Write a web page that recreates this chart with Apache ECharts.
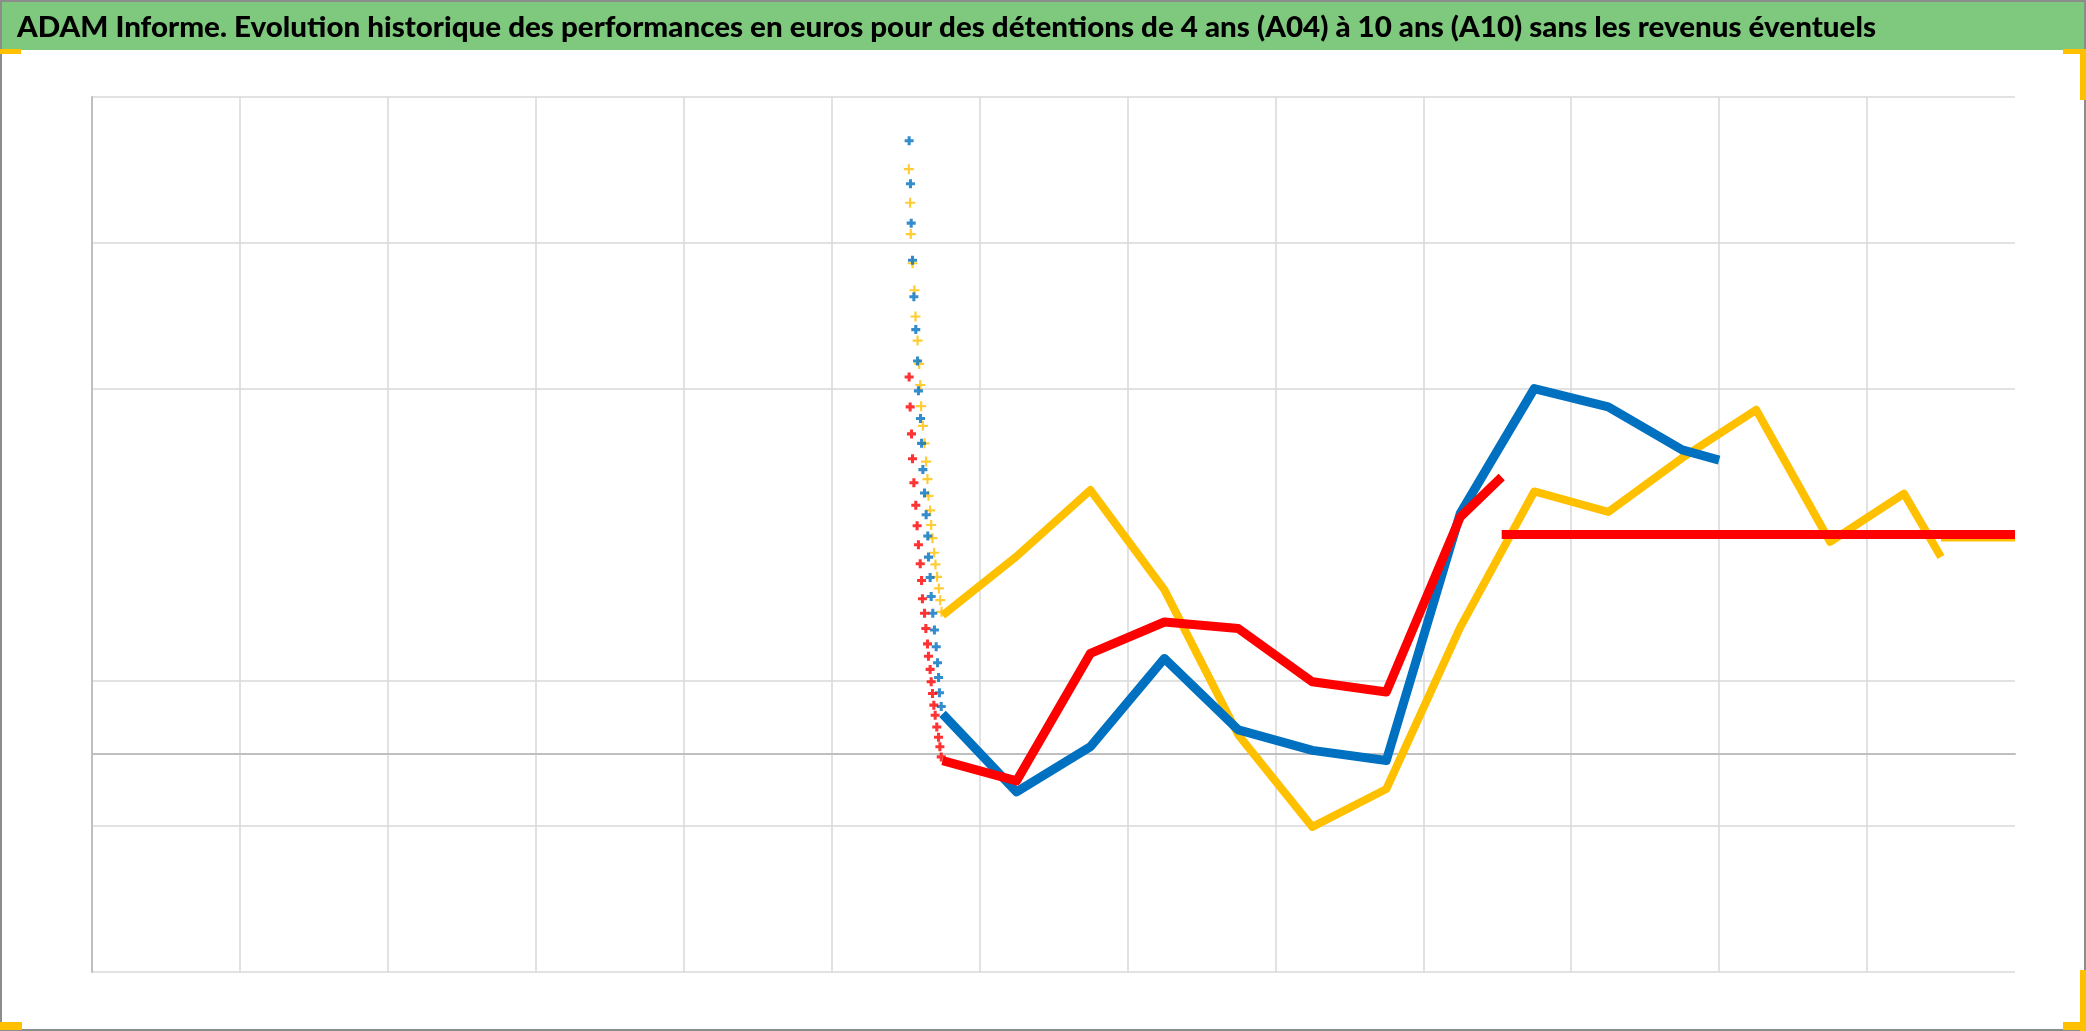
<!DOCTYPE html>
<html><head><meta charset="utf-8">
<script src="https://cdn.jsdelivr.net/npm/echarts@6/dist/echarts.min.js"></script>
<style>html,body{margin:0;padding:0;background:#fff}#c{width:2086px;height:1031px}</style>
</head><body><div id="c"></div><script>
// ---- data (x: period index on a 0..13 scale, y: performance) ----
const titleText = 'ADAM Informe. Evolution historique des performances en euros pour des détentions de 4 ans (A04) à 10 ans (A10) sans les revenus éventuels';

const yellowDots = [[5.522,80.1],[5.531,75.5],[5.535,71.2],[5.547,67.2],[5.560,63.5],[5.567,59.9],[5.581,56.6],[5.592,53.4],[5.599,50.5],[5.605,47.6],[5.617,44.9],[5.628,42.5],[5.639,40.0],[5.648,37.6],[5.655,35.3],[5.666,33.3],[5.673,31.3],[5.682,29.5],[5.693,27.5],[5.702,25.9],[5.713,24.2],[5.725,22.6],[5.734,21.0],[5.743,19.4]];
const blueDots = [[5.524,84.0],[5.533,78.1],[5.538,72.7],[5.547,67.6],[5.556,62.6],[5.569,58.1],[5.581,53.8],[5.587,49.7],[5.601,45.9],[5.608,42.5],[5.617,38.9],[5.628,35.7],[5.639,32.7],[5.650,29.8],[5.655,26.9],[5.666,24.1],[5.673,21.5],[5.684,19.2],[5.695,16.9],[5.707,14.6],[5.716,12.4],[5.723,10.4],[5.729,8.3],[5.741,6.4]];
const redDots = [[5.524,51.6],[5.531,47.5],[5.540,43.8],[5.547,40.4],[5.556,37.1],[5.569,34.0],[5.578,31.2],[5.587,28.6],[5.599,26.0],[5.608,23.7],[5.614,21.2],[5.628,19.2],[5.637,17.1],[5.648,15.0],[5.655,13.3],[5.666,11.5],[5.673,9.8],[5.682,8.2],[5.691,6.6],[5.700,5.2],[5.711,3.6],[5.723,2.2],[5.732,0.9],[5.741,-0.5]];

const yellowLine = [[5.75,18.9],[6.25,27.0],[6.75,36.1],[7.25,22.4],[7.75,2.5],[8.25,-10.1],[8.75,-4.9],[9.25,17.3],[9.75,35.9],[10.25,33.1],[10.75,40.5],[11.25,47.1],[11.75,29.0],[12.25,35.6],[12.5,26.9]];
const blueLine = [[5.75,5.4],[6.25,-5.3],[6.75,0.9],[7.25,13.0],[7.75,3.2],[8.25,0.4],[8.75,-1.0],[9.25,32.9],[9.75,50.0],[10.25,47.5],[10.75,41.6],[11.0,40.2]];
const redLine = [[5.75,-1.0],[6.25,-3.8],[6.75,13.7],[7.25,18.0],[7.75,17.1],[8.25,9.8],[8.75,8.4],[9.25,32.4],[9.53,37.9]];
const yellowFlat = [[12.5,29.6],[13,29.6]];
const redFlat = [[9.53,30],[13,30]];

// ---- styles ----
const YELLOW = '#FFC000', BLUE = '#0070C0', RED = '#FF0000';
const GRID = '#D9D9D9', NONE = 'rgba(0,0,0,0)';
const plusThick = 'path://M3.3,0H6.7V3.3H10V6.7H6.7V10H3.3V6.7H0V3.3H3.3Z';
const plusThin = 'path://M3.9,0H6.1V3.9H10V6.1H6.1V10H3.9V6.1H0V3.9H3.9Z';

const ctx = document.createElement('canvas').getContext('2d');
const titleFont = '900 29px Lato';
ctx.font = titleFont;
const tw = ctx.measureText(titleText).width;
const sx = 1859 / tw;

function dots(data, color, sym, size) {
  return {type:'scatter', data, symbol:sym, symbolSize:size, itemStyle:{color},
    silent:true, emphasis:{disabled:true}, animation:false};
}
function line(data, color, w) {
  return {type:'line', data, showSymbol:false, symbol:'none', lineStyle:{color, width:w, cap:'butt', join:'round'},
    silent:true, emphasis:{disabled:true}, animation:false};
}

const chart = echarts.init(document.getElementById('c'), null, {renderer:'canvas'});
chart.setOption({
  backgroundColor:'#fff',
  animation:false,
  grid:{left:92, right:71, top:97, bottom:59, containLabel:false},
  xAxis:{type:'value', min:0, max:13, interval:1,
    axisLabel:{show:false}, axisTick:{show:false},
    axisLine:{show:true, onZero:true, onZeroAxisIndex:0, lineStyle:{color:'#BFBFBF', width:2}},
    splitLine:{show:true, showMaxLine:false, lineStyle:{color:GRID, width:1.5}}},
  yAxis:[
    {type:'value', min:-30, max:90, axisLabel:{show:false}, axisTick:{show:false}, splitLine:{show:false},
      axisLine:{show:true, onZero:false, lineStyle:{color:'#BFBFBF', width:2}}},
    {type:'value', min:0, max:120, interval:20, position:'left', axisLabel:{show:false}, axisTick:{show:false},
      axisLine:{show:false},
      splitLine:{show:true, lineStyle:{color:[GRID, GRID, GRID, NONE, GRID, GRID, GRID], width:1.5}}}
  ],
  series:[
    dots(yellowDots, YELLOW, plusThin, 10),
    line(yellowLine, YELLOW, 8),
    line(yellowFlat, YELLOW, 8),
    dots(blueDots, BLUE, plusThick, 9),
    line(blueLine, BLUE, 9),
    dots(redDots, RED, plusThick, 9),
    line(redLine, RED, 9),
    line(redFlat, RED, 9)
  ],
  graphic:[
    {type:'rect', shape:{x:0, y:0, width:2086, height:50}, style:{fill:'#7EC97E'}, silent:true},
    {type:'text', x:17, y:28, scaleX:sx, silent:true,
      style:{text:titleText, font:titleFont, fill:'#000', align:'left', verticalAlign:'middle'}},
    {type:'rect', shape:{x:1, y:1, width:2084, height:1029}, style:{fill:null, stroke:'#8C8C8C', lineWidth:2}, silent:true},
    {type:'rect', shape:{x:0, y:49, width:21, height:5}, style:{fill:'#FFC000'}, silent:true},
    {type:'rect', shape:{x:2063, y:49, width:23, height:5}, style:{fill:'#FFC000'}, silent:true},
    {type:'rect', shape:{x:2080, y:49, width:6, height:51}, style:{fill:'#FFC000'}, silent:true},
    {type:'rect', shape:{x:0, y:1022, width:22, height:8}, style:{fill:'#FFC000'}, silent:true},
    {type:'rect', shape:{x:2063, y:1022, width:23, height:8}, style:{fill:'#FFC000'}, silent:true},
    {type:'rect', shape:{x:2080, y:970, width:6, height:61}, style:{fill:'#FFC000'}, silent:true}
  ]
});
</script></body></html>
